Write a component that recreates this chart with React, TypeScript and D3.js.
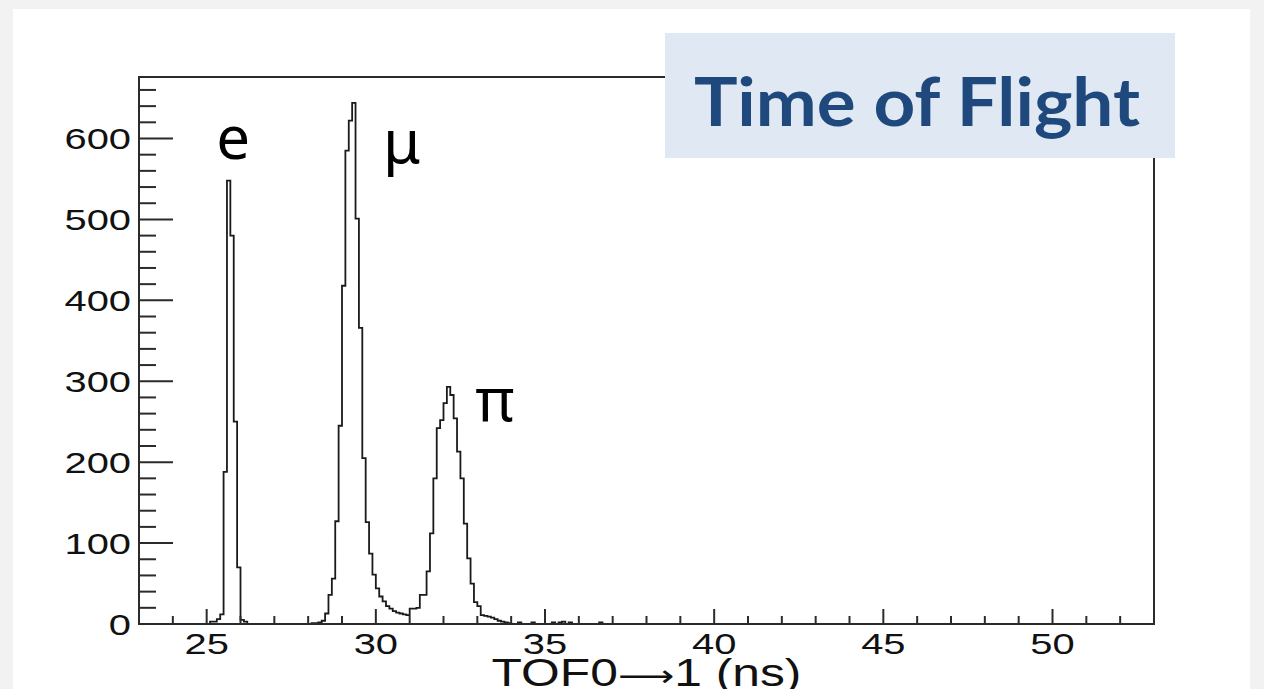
import React, { useEffect, useRef } from "react";
import * as d3 from "d3";

// TOF0->1 histogram, 0.1 ns bins from 23 to 53 ns
const histLow = 23;
const histHigh = 53;
const binWidth = 0.1;

// electron peak: bin lower edges (ns) and counts
const eEdges = [25.1, 25.2, 25.3, 25.4, 25.5, 25.6, 25.7, 25.8, 25.9, 26.0, 26.1];
const eCounts = [3, 3, 6, 12, 188, 548, 480, 250, 70, 5, 3];

// muon peak + tail
const muEdges = [
  28.1, 28.2, 28.3, 28.4, 28.5, 28.6, 28.7, 28.8, 28.9, 29.0, 29.1, 29.2, 29.3,
  29.4, 29.5, 29.6, 29.7, 29.8, 29.9, 30.0, 30.1, 30.2, 30.3, 30.4, 30.5, 30.6,
  30.7, 30.8, 30.9,
];
const muCounts = [
  1, 1, 2, 4, 13, 36, 56, 127, 245, 418, 585, 622, 644, 501, 366, 205, 126, 87,
  61, 44, 34, 28, 22, 19, 16, 14, 13, 12, 11,
];

// pion peak + tail
const piEdges = [
  31.0, 31.1, 31.2, 31.3, 31.4, 31.5, 31.6, 31.7, 31.8, 31.9, 32.0, 32.1, 32.2,
  32.3, 32.4, 32.5, 32.6, 32.7, 32.8, 32.9, 33.0, 33.1, 33.2, 33.3, 33.4, 33.5,
  33.6, 33.7, 33.8, 33.9,
];
const piCounts = [
  19, 19, 20, 36, 36, 65, 112, 180, 242, 252, 273, 293, 283, 254, 213, 180, 124,
  81, 50, 27, 22, 11, 10, 9, 8, 6, 4, 3, 2, 1,
];

// scattered late entries
const tailEdges = [34.2, 34.6, 35.2, 35.4, 35.5, 35.7, 36.6];
const tailCounts = [2, 2, 2, 2, 3, 2, 2];

const xTickLabels = [25, 30, 35, 40, 45, 50];
const yTickLabels = [0, 100, 200, 300, 400, 500, 600];
const yMax = 676;

const particleLabels = [
  { text: "e", at: 25.78, count: 575 },
  { text: "μ", at: 30.77, count: 570 },
  { text: "π", at: 33.52, count: 251 },
];

const App = () => {
  const ref = useRef(null);

  useEffect(() => {
    document.body.style.margin = "0";
    const width = 1264;
    const height = 689;

    const svg = d3.select(ref.current).attr("width", width).attr("height", height);
    svg.selectAll("*").remove();

    const x = d3.scaleLinear().domain([histLow, histHigh]).range([139, 1154]);
    const y = d3.scaleLinear().domain([0, yMax]).range([624, 77]);

    // page background
    svg.append("rect").attr("width", width).attr("height", height).attr("fill", "#f2f2f2");
    svg.append("rect").attr("x", 13).attr("y", 9).attr("width", 1237).attr("height", 680).attr("fill", "#ffffff");

    // fill all bins
    const nBins = Math.round((histHigh - histLow) / binWidth);
    const counts = new Array(nBins).fill(0);
    const put = (edges, vals) =>
      edges.forEach((e, i) => {
        counts[Math.round((e - histLow) / binWidth)] = vals[i];
      });
    put(eEdges, eCounts);
    put(muEdges, muCounts);
    put(piEdges, piCounts);
    put(tailEdges, tailCounts);

    const pts = [];
    counts.forEach((c, i) => {
      const lo = histLow + i * binWidth;
      pts.push([lo, c]);
      pts.push([lo + binWidth, c]);
    });
    const line = d3
      .line()
      .x((d) => x(d[0]))
      .y((d) => y(d[1]));

    svg
      .append("path")
      .attr("d", line(pts))
      .attr("fill", "none")
      .attr("stroke", "#1a1a1a")
      .attr("stroke-width", 1.8);

    // frame
    const g = svg.append("g").attr("stroke", "#2b2b2b").attr("stroke-width", 2);
    g.append("rect")
      .attr("x", x(histLow))
      .attr("y", y(yMax))
      .attr("width", x(histHigh) - x(histLow))
      .attr("height", y(0) - y(yMax))
      .attr("fill", "none");

    // x ticks
    const xMinor = d3.range(histLow + 1, histHigh, 1);
    g.selectAll(".xt")
      .data(xMinor)
      .join("line")
      .attr("x1", (d) => x(d))
      .attr("x2", (d) => x(d))
      .attr("y1", y(0))
      .attr("y2", (d) => y(0) - (d % 5 === 0 ? 15 : 8));

    // y ticks
    const yMinor = d3.range(20, yMax, 20);
    g.selectAll(".yt")
      .data(yMinor)
      .join("line")
      .attr("x1", x(histLow))
      .attr("x2", (d) => x(histLow) + (d % 100 === 0 ? 34 : 17))
      .attr("y1", (d) => y(d))
      .attr("y2", (d) => y(d));

    const labelFont = "'Liberation Sans', Arial, sans-serif";

    svg
      .selectAll(".xl")
      .data(xTickLabels)
      .join("text")
      .attr("transform", (d) => `translate(${x(d)},654) scale(1.33,1)`)
      .attr("text-anchor", "middle")
      .attr("font-family", labelFont)
      .attr("font-size", 30)
      .attr("fill", "#111")
      .text((d) => d);

    svg
      .selectAll(".yl")
      .data(yTickLabels)
      .join("text")
      .attr("transform", (d) => `translate(131,${y(d) + 11}) scale(1.33,1)`)
      .attr("text-anchor", "end")
      .attr("font-family", labelFont)
      .attr("font-size", 30)
      .attr("fill", "#111")
      .text((d) => d);

    // axis title, arrow from a font with a long arrow glyph
    const title = svg
      .append("text")
      .attr("transform", `translate(${(x(histLow) + x(histHigh)) / 2},686) scale(1.31,1)`)
      .attr("text-anchor", "middle")
      .attr("font-family", labelFont)
      .attr("font-size", 38)
      .attr("fill", "#111");
    title.append("tspan").text("TOF0");
    title.append("tspan").attr("font-family", "'DejaVu Sans', sans-serif").attr("font-size", 30).text("⟶");
    title.append("tspan").text("1 (ns)");

    // particle labels
    svg
      .selectAll(".pl")
      .data(particleLabels)
      .join("text")
      .attr("x", (d) => x(d.at))
      .attr("y", (d) => y(d.count))
      .attr("text-anchor", "middle")
      .attr("font-family", "'Noto Sans', sans-serif")
      .attr("font-size", 60)
      .attr("fill", "#000")
      .text((d) => d.text);

    // title box
    svg.append("rect").attr("x", 665).attr("y", 33).attr("width", 510).attr("height", 125).attr("fill", "#dfe8f3");
    svg
      .append("text")
      .attr("x", 694)
      .attr("y", 126)
      .attr("font-family", "Lato, 'Open Sans', sans-serif")
      .attr("font-weight", 700)
      .attr("font-size", 67)
      .attr("textLength", 446)
      .attr("lengthAdjust", "spacingAndGlyphs")
      .attr("fill", "#1f497d")
      .text("Time of Flight");
  });

  return (
    <div style={{ position: "absolute", left: 0, top: 0 }}>
      <svg ref={ref}></svg>
    </div>
  );
};

export default App;
